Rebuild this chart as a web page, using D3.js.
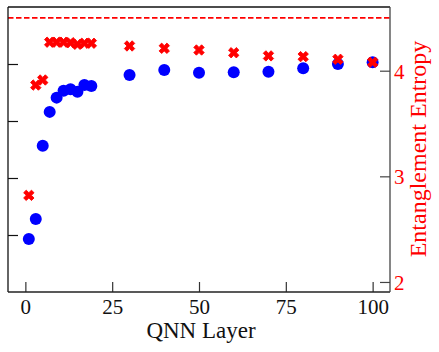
<!DOCTYPE html>
<html>
<head>
<meta charset="utf-8">
<script src="https://cdn.jsdelivr.net/npm/d3@7"></script>
<style>
  html, body { margin: 0; padding: 0; background: #fff; }
  svg { display: block; }
  text { font-family: "Liberation Serif", "DejaVu Serif", serif; }
</style>
</head>
<body>
<svg id="chart" width="439" height="352"></svg>
<script>
// ---- data ----
const layers = [1, 3, 5, 7, 9, 11, 13, 15, 17, 19, 30, 40, 50, 60, 70, 80, 90, 100];
const blueValues = [0.186, 0.256, 0.513, 0.632, 0.682, 0.706, 0.711, 0.703, 0.726, 0.723, 0.761, 0.779, 0.769, 0.771, 0.773, 0.785, 0.800, 0.806];
const entropyValues = [2.82, 3.864, 3.912, 4.27, 4.27, 4.27, 4.265, 4.25, 4.26, 4.26, 4.234, 4.212, 4.196, 4.17, 4.14, 4.133, 4.108, 4.08];
const maxEntropy = 4.5;
const xTicks = [0, 25, 50, 75, 100];
const leftTicks = [0.2, 0.4, 0.6, 0.8];
const rightTicks = [2, 3, 4];
const xLabel = "QNN Layer";
const rightLabel = "Entanglement Entropy";

// ---- layout ----
const W = 439, H = 352;
const L = 8, R = 390, T = 7, B = 292;
const svg = d3.select("#chart");

const x = d3.scaleLinear().domain([-5, 105]).range([L, R]);
const yL = d3.scaleLinear().domain([0, 1]).range([B, T]);
const yR = d3.scaleLinear().domain([1.905, 4.603]).range([B, T]);

// ---- dashed max entropy line ----
svg.append("line")
  .attr("x1", L).attr("x2", R)
  .attr("y1", yR(maxEntropy)).attr("y2", yR(maxEntropy))
  .attr("stroke", "#ff0000").attr("stroke-width", 1.6)
  .attr("stroke-dasharray", "5.5,2.5");

// ---- blue circles ----
const pts = layers.map((l, i) => ({ l, b: blueValues[i], e: entropyValues[i] }));
svg.append("g").selectAll("circle").data(pts).join("circle")
  .attr("cx", d => x(d.l)).attr("cy", d => yL(d.b))
  .attr("r", 6).attr("fill", "#0000ff");

// ---- red filled X markers (matplotlib 'X') ----
const xShape = [[-1,-2],[0,-1],[1,-2],[2,-1],[1,0],[2,1],[1,2],[0,1],[-1,2],[-2,1],[-1,0],[-2,-1]];
const k = 10.4 / 4;
const xPath = d3.line().x(p => p[0] * k).y(p => p[1] * k).curve(d3.curveLinearClosed)(xShape);
svg.append("g").selectAll("path").data(pts).join("path")
  .attr("d", xPath)
  .attr("transform", d => `translate(${x(d.l)},${yR(d.e)})`)
  .attr("fill", "#ff0000").attr("stroke", "#ff0000").attr("stroke-width", 0.9)
  .attr("stroke-linejoin", "round");

// ---- axes ----
const tickLen = 10;
// bottom
const gx = svg.append("g").attr("transform", `translate(0,${B})`)
  .call(d3.axisBottom(x).tickValues(xTicks).tickSize(-tickLen).tickPadding(0).tickFormat(d3.format("d")));
gx.select(".domain").remove();
gx.selectAll(".tick line").attr("stroke", "#333").attr("stroke-width", 1.2);
gx.selectAll(".tick text").attr("font-size", 21).attr("fill", "#111").attr("y", 22).attr("dy", 0);

// left
const gl = svg.append("g").attr("transform", `translate(${L},0)`)
  .call(d3.axisLeft(yL).tickValues(leftTicks).tickSize(-tickLen).tickFormat(""));
gl.select(".domain").remove();
gl.selectAll(".tick line").attr("stroke", "#111").attr("stroke-width", 1.2);

// right
const gr = svg.append("g").attr("transform", `translate(${R},0)`)
  .call(d3.axisRight(yR).tickValues(rightTicks).tickSize(-tickLen).tickPadding(0).tickFormat(d3.format("d")));
gr.select(".domain").remove();
gr.selectAll(".tick line").attr("stroke", "#444").attr("stroke-width", 1.2);
gr.selectAll(".tick text").attr("font-size", 21).attr("fill", "#ff0000").attr("x", 4).attr("dy", "0.35em");

// spines
svg.append("line").attr("x1", L).attr("x2", L).attr("y1", T).attr("y2", B).attr("stroke", "#111").attr("stroke-width", 1.3);
svg.append("line").attr("x1", L).attr("x2", R).attr("y1", B).attr("y2", B).attr("stroke", "#222").attr("stroke-width", 1.3);
svg.append("line").attr("x1", L).attr("x2", R).attr("y1", T).attr("y2", T).attr("stroke", "#111").attr("stroke-width", 1.3);
svg.append("line").attr("x1", R).attr("x2", R).attr("y1", T).attr("y2", B).attr("stroke", "#444").attr("stroke-width", 1.3);

// labels
svg.append("text").attr("x", (L + R) / 2 + 2).attr("y", 338)
  .attr("text-anchor", "middle").attr("font-size", 23).attr("fill", "#111").text(xLabel);
svg.append("text").attr("transform", `translate(426,149) rotate(-90)`)
  .attr("text-anchor", "middle").attr("font-size", 24).attr("fill", "#ff0000").text(rightLabel);
</script>
</body>
</html>
